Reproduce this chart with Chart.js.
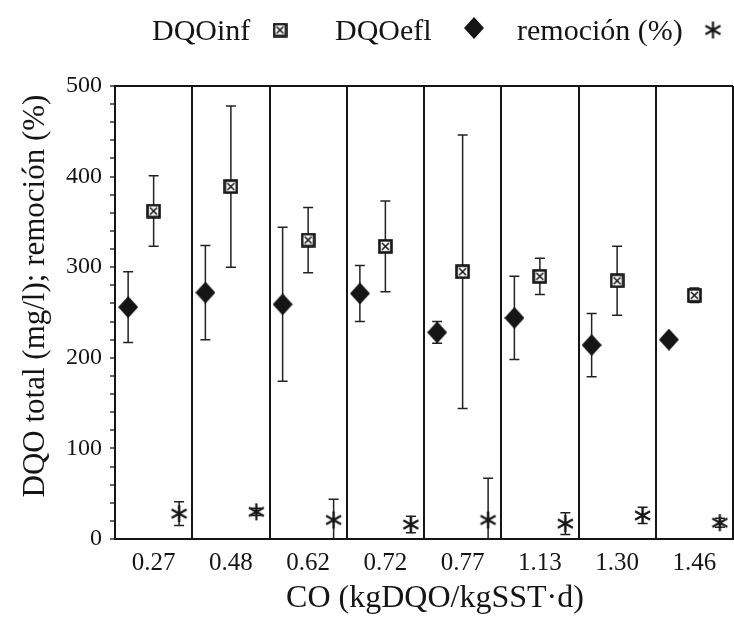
<!DOCTYPE html>
<html>
<head>
<meta charset="utf-8">
<script src="https://cdn.jsdelivr.net/npm/chart.js@4.4.1/dist/chart.umd.min.js"></script>
<style>
  html, body { margin: 0; padding: 0; background: #fff; overflow: hidden; }
  #dqoChart { display: block; }
</style>
</head>
<body>
<canvas id="dqoChart" width="734" height="620"></canvas>
<script>
// CO (kgDQO/kgSST·d) categories and values
const categories = ['0.27', '0.48', '0.62', '0.72', '0.77', '1.13', '1.30', '1.46'];
const dqoInf = [362, 389, 330, 323, 295, 290, 285, 269];
const dqoInfErr = [39, 89, 36, 50, 151, 20, 38, 8];
const dqoEfl = [256, 272, 259, 271, 228, 244, 214, 220];
const dqoEflErr = [39, 52, 85, 31, 12, 46, 35, 4];
const remocion = [28, 30, 21, 16, 21, 17, 26, 18];
const remocionErr = [13, 4, 23, 9, 46, 12, 9, 5];
const yTicks = [0, 100, 200, 300, 400, 500];

const serif = "'Liberation Serif', 'Times New Roman', serif";
const ink = '#151515';

// marker images
function squareMark() {
  const c = document.createElement('canvas');
  c.width = 15; c.height = 15;
  const g = c.getContext('2d');
  g.fillStyle = '#fff';
  g.fillRect(1, 1, 13, 13);
  g.strokeStyle = ink;
  g.lineWidth = 2.6;
  g.strokeRect(1.5, 1.5, 12, 12);
  g.lineWidth = 1.6;
  g.beginPath();
  g.moveTo(4, 4); g.lineTo(11, 11);
  g.moveTo(11, 4); g.lineTo(4, 11);
  g.stroke();
  return c;
}
function diamondMark() {
  const c = document.createElement('canvas');
  c.width = 20; c.height = 22;
  const g = c.getContext('2d');
  g.fillStyle = ink;
  g.beginPath();
  g.moveTo(10, 0); g.lineTo(20, 11); g.lineTo(10, 22); g.lineTo(0, 11);
  g.closePath();
  g.fill();
  return c;
}
function starMark() {
  const c = document.createElement('canvas');
  c.width = 19; c.height = 19;
  const g = c.getContext('2d');
  g.strokeStyle = ink;
  g.lineWidth = 2.2;
  g.beginPath();
  g.moveTo(9.5, 1); g.lineTo(9.5, 18);
  g.moveTo(2, 5.3); g.lineTo(17, 13.7);
  g.moveTo(2, 13.7); g.lineTo(17, 5.3);
  g.stroke();
  return c;
}
const marks = [squareMark(), diamondMark(), starMark()];

const errorBars = {
  id: 'errorBars',
  beforeDatasetsDraw(chart) {
    const { ctx, chartArea, scales } = chart;
    ctx.save();
    ctx.beginPath();
    ctx.rect(chartArea.left, chartArea.top, chartArea.width, chartArea.height);
    ctx.clip();
    ctx.strokeStyle = '#222';
    ctx.lineWidth = 1.5;
    chart.data.datasets.forEach((ds, di) => {
      chart.getDatasetMeta(di).data.forEach((pt, i) => {
        const v = ds.data[i].y, e = ds.errors[i];
        const top = scales.y.getPixelForValue(v + e);
        const bot = scales.y.getPixelForValue(v - e);
        ctx.beginPath();
        ctx.moveTo(pt.x, top); ctx.lineTo(pt.x, bot);
        ctx.moveTo(pt.x - 5, top); ctx.lineTo(pt.x + 5, top);
        ctx.moveTo(pt.x - 5, bot); ctx.lineTo(pt.x + 5, bot);
        ctx.stroke();
      });
    });
    ctx.restore();
  }
};

// legend (label then marker) and axis titles
const decorations = {
  id: 'decorations',
  afterDraw(chart) {
    const ctx = chart.ctx;
    ctx.save();
    ctx.fillStyle = ink;
    ctx.font = '30px ' + serif;
    ctx.textBaseline = 'alphabetic';
    const textX = [152, 335, 517];
    const markX = [280, 474, 713];
    const markY = [30, 28, 30];
    chart.data.datasets.forEach((ds, i) => {
      ctx.fillText(ds.label, textX[i], 40);
      const img = marks[i];
      ctx.drawImage(img, markX[i] - img.width / 2, markY[i] - img.height / 2);
    });

    ctx.font = '32px ' + serif;
    ctx.textAlign = 'center';
    ctx.fillText('CO (kgDQO/kgSST·d)', 435, 607);

    ctx.translate(36, 296);
    ctx.rotate(-Math.PI / 2);
    ctx.font = '31px ' + serif;
    ctx.textBaseline = 'middle';
    ctx.fillText('DQO total (mg/l); remoción (%)', 0, 0);
    ctx.restore();
  }
};

const points = (vals, off) => vals.map((v, i) => ({ x: i + off, y: v }));

new Chart(document.getElementById('dqoChart'), {
  type: 'scatter',
  data: {
    datasets: [
      { label: 'DQOinf', data: points(dqoInf, 0.5), errors: dqoInfErr, pointStyle: marks[0] },
      { label: 'DQOefl', data: points(dqoEfl, 0.17), errors: dqoEflErr, pointStyle: marks[1] },
      { label: 'remoción (%)', data: points(remocion, 0.83), errors: remocionErr, pointStyle: marks[2] }
    ]
  },
  options: {
    responsive: false,
    animation: false,
    layout: { autoPadding: false, padding: { top: 86, right: 1, left: 0, bottom: 0 } },
    plugins: { legend: { display: false }, tooltip: { enabled: false } },
    scales: {
      x: {
        type: 'linear',
        min: 0,
        max: 8,
        afterBuildTicks: s => {
          const t = [];
          for (let k = 0; k <= 16; k++) t.push({ value: k / 2 });
          s.ticks = t;
        },
        afterFit: s => {
          s.height = 81;
          s.paddingLeft = 0;
          s.paddingRight = 0;
        },
        grid: {
          color: c => (c.tick && c.tick.value % 1 === 0 ? ink : 'rgba(0,0,0,0)'),
          lineWidth: 2,
          drawTicks: false
        },
        border: { color: ink, width: 2 },
        ticks: {
          autoSkip: false,
          maxRotation: 0,
          padding: 9,
          color: ink,
          font: { family: serif, size: 25 },
          callback: v => (v % 1 === 0.5 ? categories[Math.floor(v)] : '')
        }
      },
      y: {
        min: 0,
        max: 500,
        afterFit: s => { s.width = 115; },
        grid: {
          color: c => (c.tick && c.tick.value === 500 ? ink : 'rgba(0,0,0,0)'),
          lineWidth: 2,
          tickColor: ink,
          tickWidth: 1.3,
          tickLength: 5
        },
        border: { color: ink, width: 2 },
        ticks: {
          stepSize: 20,
          autoSkip: false,
          padding: 8,
          color: ink,
          font: { family: serif, size: 24 },
          callback: v => (yTicks.includes(v) ? v : '')
        }
      }
    }
  },
  plugins: [errorBars, decorations]
});
</script>
</body>
</html>
